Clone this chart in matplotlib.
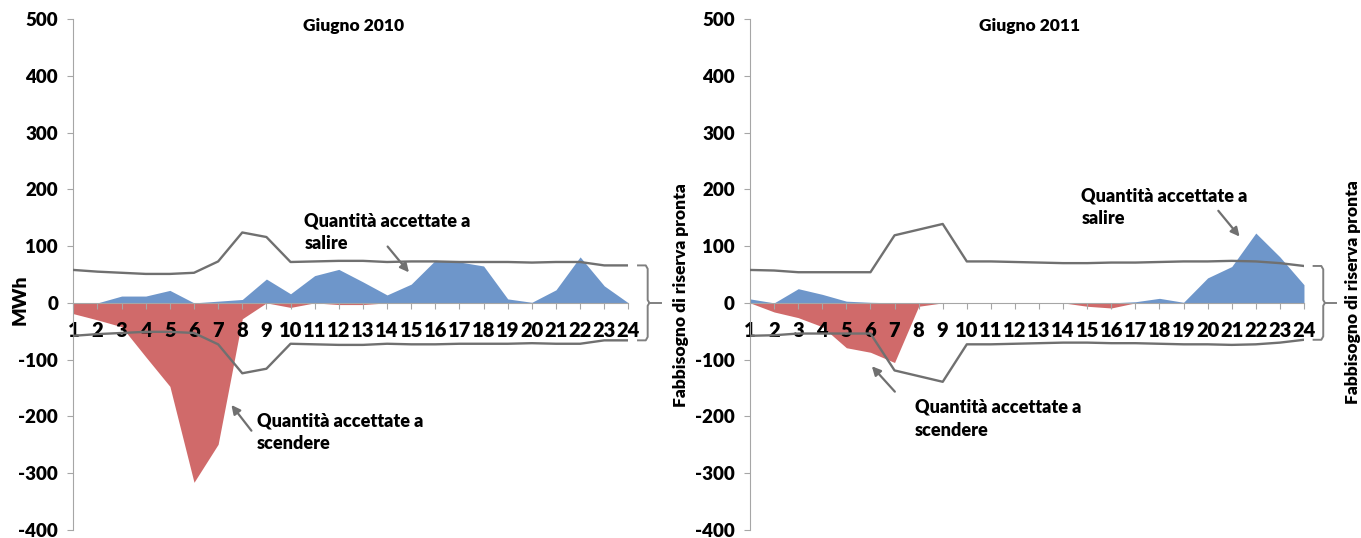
import matplotlib.pyplot as plt
import numpy as np

plt.rcParams['font.family'] = ['Lato', 'DejaVu Sans']
plt.rcParams['font.weight'] = 'bold'
plt.rcParams['axes.unicode_minus'] = False

# ore del giorno
ore = np.arange(1, 25)

# Giugno 2010 (MWh)
salire_2010 = [0, 0, 12, 12, 22, 0, 3, 6, 42, 16, 48, 59, 37, 14, 33, 75, 72, 65, 7, 1, 23, 81, 30, 0]
scendere_2010 = [-19, -30, -42, -95, -147, -316, -249, -28, 0, -8, 0, -3, -3, 0, 0, 0, 0, 0, 0, 0, 0, 0, 0, 0]
riserva_2010 = [58, 55, 53, 51, 51, 53, 73, 124, 116, 72, 73, 74, 74, 72, 73, 73, 72, 72, 72, 71, 72, 72, 66, 66]

# Giugno 2011 (MWh)
salire_2011 = [7, 0, 25, 15, 3, 1, 0, 0, 0, 0, 0, 0, 0, 0, 0, 0, 2, 8, 1, 44, 64, 123, 81, 32]
scendere_2011 = [0, -16, -26, -42, -79, -87, -105, -6, 0, 0, 0, 0, 0, 0, -6, -9, 0, 0, 0, 0, 0, 0, 0, 0]
riserva_2011 = [58, 57, 54, 54, 54, 54, 119, 129, 139, 73, 73, 72, 71, 70, 70, 71, 71, 72, 73, 73, 74, 73, 70, 65]

BLU = '#6E96CA'
ROSSO = '#D06A6A'
GRIGIO = '#707070'
ASSE = '#A6A6A6'


def pannello(ax, titolo, salire, scendere, riserva):
    riserva = np.array(riserva)
    ax.fill_between(ore, 0, salire, color=BLU, lw=0, zorder=1)
    ax.fill_between(ore, 0, scendere, color=ROSSO, lw=0, zorder=1)
    ax.plot(ore, riserva, color=GRIGIO, lw=1.7, zorder=3)
    ax.plot(ore, -riserva, color=GRIGIO, lw=1.7, zorder=3)

    ax.set_xlim(1, 24)
    ax.set_ylim(-400, 500)
    ax.set_yticks(range(-400, 501, 100))
    ax.set_xticks(ore)
    ax.set_xticklabels([str(h) for h in ore])
    for s in ['top', 'right']:
        ax.spines[s].set_visible(False)
    ax.spines['bottom'].set_position(('data', 0))
    ax.spines['bottom'].set_color(ASSE)
    ax.spines['left'].set_color(ASSE)
    ax.tick_params(axis='x', direction='out', length=4, color=ASSE, pad=9,
                   labelsize=14.5)
    ax.tick_params(axis='y', direction='out', length=4, color=ASSE, pad=7,
                   labelsize=13.5)
    for lab in ax.get_xticklabels() + ax.get_yticklabels():
        lab.set_fontweight('heavy')
    ax.text(12.6, 487, titolo, ha='center', va='center', fontsize=12.5,
            fontweight='heavy')

    # parentesi graffa sul fabbisogno di riserva
    r = riserva[-1]
    bx = [24.4, 24.72, 24.8, 24.8, 24.87, 24.8, 24.8, 24.72, 24.4]
    by = [r, r, r - 6, 5, 0, -5, -r + 6, -r, -r]
    ax.plot(bx, by, color='#808080', lw=1.4, clip_on=False)
    ax.plot([24.87, 25.35], [0, 0], color='#808080', lw=1.4, clip_on=False)


fig = plt.figure(figsize=(13.61, 5.38), dpi=100)
ax1 = fig.add_axes([0.0539, 0.0149, 0.4078, 0.9498])
ax2 = fig.add_axes([0.5511, 0.0149, 0.4070, 0.9498])

pannello(ax1, 'Giugno 2010', salire_2010, scendere_2010, riserva_2010)
pannello(ax2, 'Giugno 2011', salire_2011, scendere_2011, riserva_2011)

freccia = dict(arrowstyle='-|>', color=GRIGIO, lw=1.6, mutation_scale=13)
nota = dict(ha='left', va='center', fontsize=13, fontweight='heavy',
            linespacing=1.4)

ax1.text(10.57, 124, 'Quantità accettate a\nsalire', **nota)
ax1.annotate('', xy=(14.98, 50), xytext=(13.95, 103), arrowprops=freccia)
ax1.text(8.6, -228, 'Quantità accettate a\nscendere', **nota)
ax1.annotate('', xy=(7.48, -176), xytext=(8.45, -229), arrowprops=freccia)

ax2.text(14.76, 168, 'Quantità accettate a\nsalire', **nota)
ax2.annotate('', xy=(21.4, 113), xytext=(20.37, 166), arrowprops=freccia)
ax2.text(7.85, -204, 'Quantità accettate a\nscendere', **nota)
ax2.annotate('', xy=(5.98, -108), xytext=(7.09, -160), arrowprops=freccia)

fig.text(20 / 1361, 1 - 300 / 538, 'MWh', rotation=90, ha='center',
         va='center', fontsize=14, fontweight='heavy')
fig.text(681 / 1361, 1 - 295 / 538, 'Fabbisogno di riserva pronta',
         rotation=90, ha='center', va='center', fontsize=12.5,
         fontweight='heavy')
fig.text(1353 / 1361, 1 - 292 / 538, 'Fabbisogno di riserva pronta',
         rotation=90, ha='center', va='center', fontsize=12.5,
         fontweight='heavy')

fig.savefig('out.png', dpi=100)
